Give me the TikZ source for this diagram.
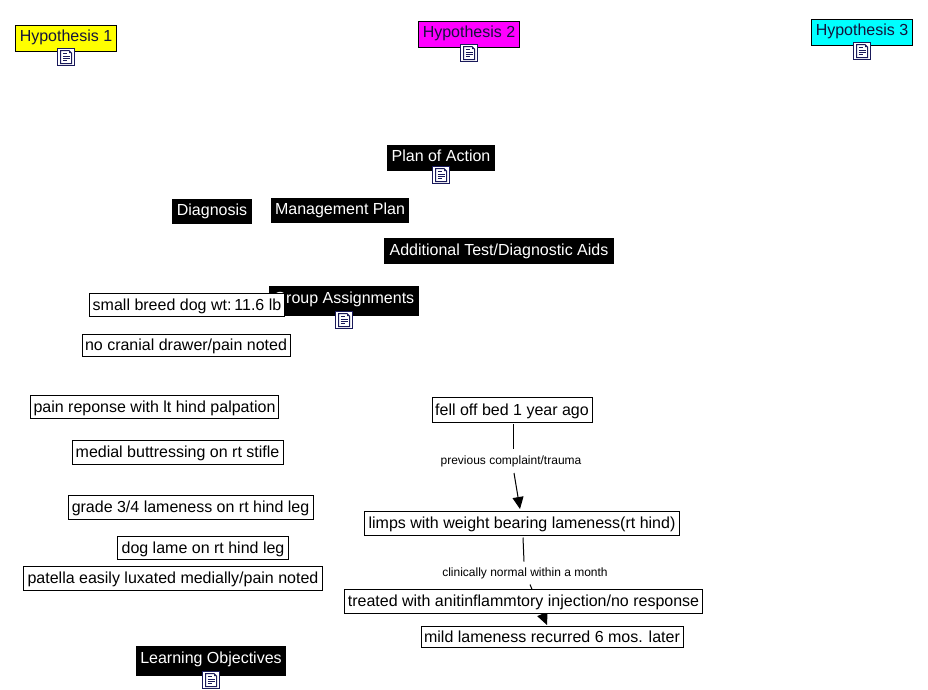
\documentclass[tikz,border=0pt]{standalone}
\usepackage{fontspec}
\setmainfont{Liberation Sans}
\usetikzlibrary{backgrounds,arrows.meta}
\definecolor{hypyellow}{RGB}{255,255,0}
\definecolor{hypmagenta}{RGB}{255,0,255}
\definecolor{hypcyan}{RGB}{0,255,255}
\definecolor{hyptext}{RGB}{20,20,60}
\definecolor{iconblue}{RGB}{25,25,90}
\newcommand{\bt}[2]{\raisebox{#1pt}{#2}}
\tikzset{
  x=1pt,y=-1pt,
  every node/.style={font=\fontsize{16}{18}\selectfont,inner sep=0pt,outer sep=0pt,text height=12pt,text depth=3.4pt},
  plainbox/.style={draw=black,line width=1pt,fill=white,text=black,text depth=1.4pt},
  darkbox/.style={fill=black,text=white},
  hypbox/.style={draw=black,line width=1pt,text=hyptext},
  linklabel/.style={font=\fontsize{12}{14}\selectfont,text height=9pt,text depth=2.5pt,text=black},
  conn/.style={line width=1pt,black},
  head/.style={conn,-{Triangle[length=12pt,width=11pt]}},
  docicon/.style={draw=iconblue,line width=1pt,fill=white,minimum width=16.5pt,minimum height=16.5pt,text height=0pt,text depth=0pt,
    path picture={
      \begin{scope}[shift={(path picture bounding box.center)},x=1pt,y=-1pt]
        \draw[line width=1pt,iconblue] (-5.5,-6.5) -- (3,-6.5) -- (5.5,-4) -- (5.5,6.5) -- (-5.5,6.5) -- cycle;
        \fill[iconblue] (3,-6.5) -- (3,-4) -- (5.5,-4) -- cycle;
        \draw[line width=1pt,iconblue] (-3.5,-3.5) -- (0.5,-3.5) (-3.5,-1) -- (3.5,-1) (-3.5,1.2) -- (3.5,1.2) (-3.5,3.5) -- (1,3.5);
      \end{scope}}}
}
\begin{document}
\begin{tikzpicture}
\useasboundingbox (0,0) rectangle (928,689);
% hypotheses
\node[hypbox,fill=hypyellow,minimum width=101pt,minimum height=26.5pt] (h1) at (66,38.5) {\bt{1}{Hypothesis 1}};
\node[docicon] (h1i) at (66,57) {};
\node[hypbox,fill=hypmagenta,minimum width=101pt,minimum height=26.5pt] (h2) at (469,34.5) {\bt{1}{Hypothesis 2}};
\node[docicon] (h2i) at (469,53) {};
\node[hypbox,fill=hypcyan,minimum width=101pt,minimum height=26.5pt] (h3) at (862,32.5) {\bt{1}{Hypothesis 3}};
\node[docicon] (h3i) at (862,51) {};
% dark headings
\node[darkbox,minimum width=108pt,minimum height=26pt] (plan) at (441,158) {\bt{1}{Plan of Action}};
\node[docicon] (plani) at (441,175) {};
\node[darkbox,minimum width=80pt,minimum height=25pt] (diag) at (212,211.5) {Diagnosis};
\node[darkbox,minimum width=138pt,minimum height=25pt] (mgmt) at (340,210.5) {Management Plan};
\node[darkbox,minimum width=230pt,minimum height=26pt] (addl) at (499,251) {Additional Test/Diagnostic Aids};
\node[darkbox,minimum width=150pt,minimum height=30pt] (group) at (344,301) {\bt{2}{Group Assignments}};
\node[docicon] (groupi) at (344,320) {};
\node[darkbox,minimum width=150pt,minimum height=30pt] (learn) at (211,661) {\bt{2}{Learning Objectives}};
\node[docicon] (learni) at (211,680) {};
% findings
\node[plainbox,minimum width=195pt,minimum height=23pt] (small) at (187,305) {small breed dog wt:\hspace{-3pt} 11.6 lb};
\node[plainbox,minimum width=208pt,minimum height=22pt] (cran) at (186,345.5) {no cranial drawer/pain noted};
\node[plainbox,minimum width=248pt,minimum height=23pt] (pain) at (154.5,407) {pain reponse with lt hind palpation};
\node[plainbox,minimum width=211pt,minimum height=24pt] (medial) at (177.5,452.5) {medial buttressing on rt stifle};
\node[plainbox,minimum width=245pt,minimum height=24pt] (grade) at (190.5,507.5) {grade 3/4 lameness on rt hind leg};
\node[plainbox,minimum width=171pt,minimum height=23pt] (dog) at (203,548) {dog lame on rt hind leg};
\node[plainbox,minimum width=299pt,minimum height=24pt] (pat) at (173,578.5) {patella easily luxated medially/pain noted};
% history chain
\node[plainbox,minimum width=160pt,minimum height=25pt] (fell) at (512,410) {fell off bed 1 year ago};
\node[plainbox,minimum width=315pt,minimum height=24pt] (limps) at (522,523.5) {limps with weight bearing lameness(rt hind)};
\node[plainbox,minimum width=358pt,minimum height=24pt] (treat) at (523.5,601.5) {treated with anitinflammtory injection/no response};
\node[plainbox,minimum width=262pt,minimum height=21pt] (mild) at (552,637) {mild lameness recurred 6 mos. later};
\node[linklabel,minimum height=24pt] (l1) at (511,461) {previous complaint/trauma};
\node[linklabel,minimum height=23pt] (l2) at (525,573) {clinically normal within a month};
\begin{scope}[on background layer]
\draw[conn] ([xshift=1pt,yshift=-1.5pt]fell.south) -- ([xshift=2pt]l1.north);
\draw[head] ([xshift=3pt]l1.south) -- ([xshift=-2pt,yshift=2.5pt]limps.north);
\draw[conn] ([xshift=1pt,yshift=-2pt]limps.south) -- ([xshift=-1pt]l2.north);
\draw[head] ([xshift=5pt]l2.south) -- ([xshift=-5pt,yshift=1.5pt]mild.north);
\end{scope}
\end{tikzpicture}
\end{document}
